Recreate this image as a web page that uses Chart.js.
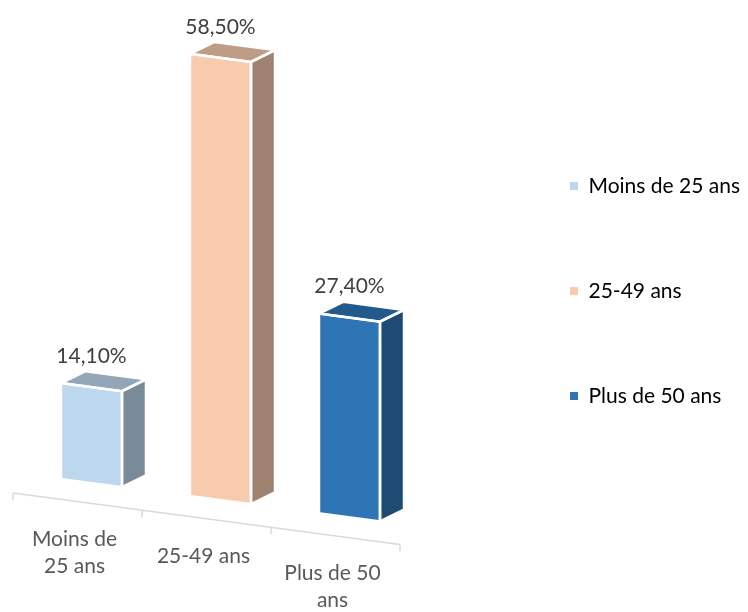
<!DOCTYPE html>
<html lang="fr">
<head>
<meta charset="utf-8">
<title>Répartition par tranche d'âge</title>
<script src="https://cdn.jsdelivr.net/npm/chart.js@4.4.1/dist/chart.umd.min.js"></script>
<style>
  html, body { margin: 0; padding: 0; background: #fff; }
  #wrap { width: 748px; height: 612px; }
</style>
</head>
<body>
<div id="wrap"><canvas id="ageChart" width="748" height="612"></canvas></div>
<script>
// Tranches d'âge et parts en %
const categories = ['Moins de 25 ans', '25-49 ans', 'Plus de 50 ans'];
const tickLabels = [['Moins de', '25 ans'], ['25-49 ans'], ['Plus de 50', 'ans']];
const values = [14.1, 58.5, 27.4];

const barColors = ['#BDD7EE', '#F8CBAD', '#2E75B6'];

const FONT = 'Lato, "Open Sans", sans-serif';
const FONT_SIZE = 21;

// fake 3D: the floor slopes down to the right, bars get a side and a top face
const SLANT = 0.133;      // slope of the floor
const SHIFT_X = 14;       // bars sit a bit behind the front edge of the floor
const BASE_Y = 472.75;    // where the bars' base ends up (at x = 0)
const FLOOR_GAP = 18.5;   // front edge of the floor below the bars' base
const DEPTH_X = 24;
const DEPTH_Y = -15;
const Y_MIN = 1.8;        // the perspective eats the bottom of the bars

function shade(hex, f) {
    const n = parseInt(hex.slice(1), 16);
    const r = Math.round(((n >> 16) & 255) * f);
    const g = Math.round(((n >> 8) & 255) * f);
    const b = Math.round((n & 255) * f);
    return `rgb(${r},${g},${b})`;
}

function frenchPct(v) {
    return v.toFixed(2).replace('.', ',') + '%';
}

function poly(ctx, pts) {
    ctx.beginPath();
    ctx.moveTo(pts[0][0], pts[0][1]);
    for (let i = 1; i < pts.length; i++) ctx.lineTo(pts[i][0], pts[i][1]);
    ctx.closePath();
}

function baseShift(chart) {
    return BASE_Y - chart.scales.y.getPixelForValue(Y_MIN);
}

const bars3d = {
    id: 'bars3d',
    beforeDatasetsDraw(chart) {
        const ctx = chart.ctx;
        const xs = chart.scales.x;
        const n = categories.length;
        const step = xs.width / n;

        // floor edge + tick marks
        ctx.save();
        ctx.strokeStyle = '#D9D9D9';
        ctx.lineWidth = 1.5;
        const fy = x => BASE_Y + FLOOR_GAP + SLANT * x;
        ctx.beginPath();
        ctx.moveTo(xs.left, fy(xs.left));
        ctx.lineTo(xs.right, fy(xs.right));
        for (let i = 0; i <= n; i++) {
            const x = xs.left + i * step;
            ctx.moveTo(x, fy(x));
            ctx.lineTo(x, fy(x) + 7);
        }
        ctx.stroke();

        // category labels, following the slope of the floor
        ctx.fillStyle = '#595959';
        ctx.font = `${FONT_SIZE}px ${FONT}`;
        ctx.textAlign = 'center';
        ctx.textBaseline = 'middle';
        tickLabels.forEach((lines, i) => {
            const cx = xs.getPixelForValue(i) - 3;
            const y0 = fy(cx) + 38;
            lines.forEach((t, j) => ctx.fillText(t, cx, y0 + j * 27));
        });
        ctx.restore();

        // skew everything the datasets draw
        ctx.save();
        ctx.translate(SHIFT_X, baseShift(chart));
        ctx.transform(1, SLANT, 0, 1, 0, 0);
    },
    afterDatasetsDraw(chart) {
        const ctx = chart.ctx;
        const meta = chart.getDatasetMeta(0);

        meta.data.forEach((el, i) => {
            const {x, y, base, width} = el.getProps(['x', 'y', 'base', 'width'], true);
            const l = x - width / 2, r = x + width / 2;
            const front = [[l, y], [r, y], [r, base], [l, base]];
            const side = [[r, y], [r + DEPTH_X, y + DEPTH_Y], [r + DEPTH_X, base + DEPTH_Y], [r, base]];
            const top = [[l, y], [l + DEPTH_X, y + DEPTH_Y], [r + DEPTH_X, y + DEPTH_Y], [r, y]];

            poly(ctx, side);
            ctx.fillStyle = shade(barColors[i], 0.64);
            ctx.fill();
            poly(ctx, top);
            ctx.fillStyle = shade(barColors[i], 0.77);
            ctx.fill();

            ctx.strokeStyle = '#ffffff';
            ctx.lineWidth = 2.5;
            ctx.lineJoin = 'round';
            [front, side, top].forEach(p => { poly(ctx, p); ctx.stroke(); });
        });
        ctx.restore();

        // value labels above each bar
        const dy = baseShift(chart);
        ctx.save();
        ctx.fillStyle = '#404040';
        ctx.font = `${FONT_SIZE}px ${FONT}`;
        ctx.textAlign = 'center';
        ctx.textBaseline = 'middle';
        meta.data.forEach((el, i) => {
            const lx = el.x + SHIFT_X;
            const ly = el.y + SLANT * el.x + dy - 31;
            ctx.fillText(frenchPct(values[i]), lx, ly);
        });
        ctx.restore();
    }
};

const ctx = document.getElementById('ageChart').getContext('2d');

const chart = new Chart(ctx, {
    type: 'bar',
    data: {
        labels: categories,
        datasets: [{
            data: values,
            base: Y_MIN,
            backgroundColor: barColors,
            borderWidth: 0,
            categoryPercentage: 1,
            barPercentage: 0.473,
            clip: false
        }]
    },
    options: {
        responsive: false,
        animation: false,
        layout: {
            padding: { left: 13, top: 0, right: 0, bottom: 30 }
        },
        scales: {
            x: { display: false },
            y: {
                position: 'right',
                min: Y_MIN,
                max: 76.4,
                grid: { display: false },
                border: { display: false },
                ticks: { display: false },
                afterFit: s => { s.width = 86; } // gap between the bars and the legend
            }
        },
        plugins: {
            tooltip: { enabled: false },
            legend: {
                position: 'right',
                maxWidth: 262,
                labels: {
                    boxWidth: 8,
                    boxHeight: 8,
                    padding: 84,
                    color: '#595959',
                    font: { family: FONT, size: FONT_SIZE },
                    generateLabels: () => categories.map((c, i) => ({
                        text: c,
                        fillStyle: barColors[i],
                        strokeStyle: barColors[i],
                        lineWidth: 0,
                        hidden: false,
                        index: i
                    }))
                }
            }
        }
    },
    plugins: [bars3d]
});
</script>
</body>
</html>
